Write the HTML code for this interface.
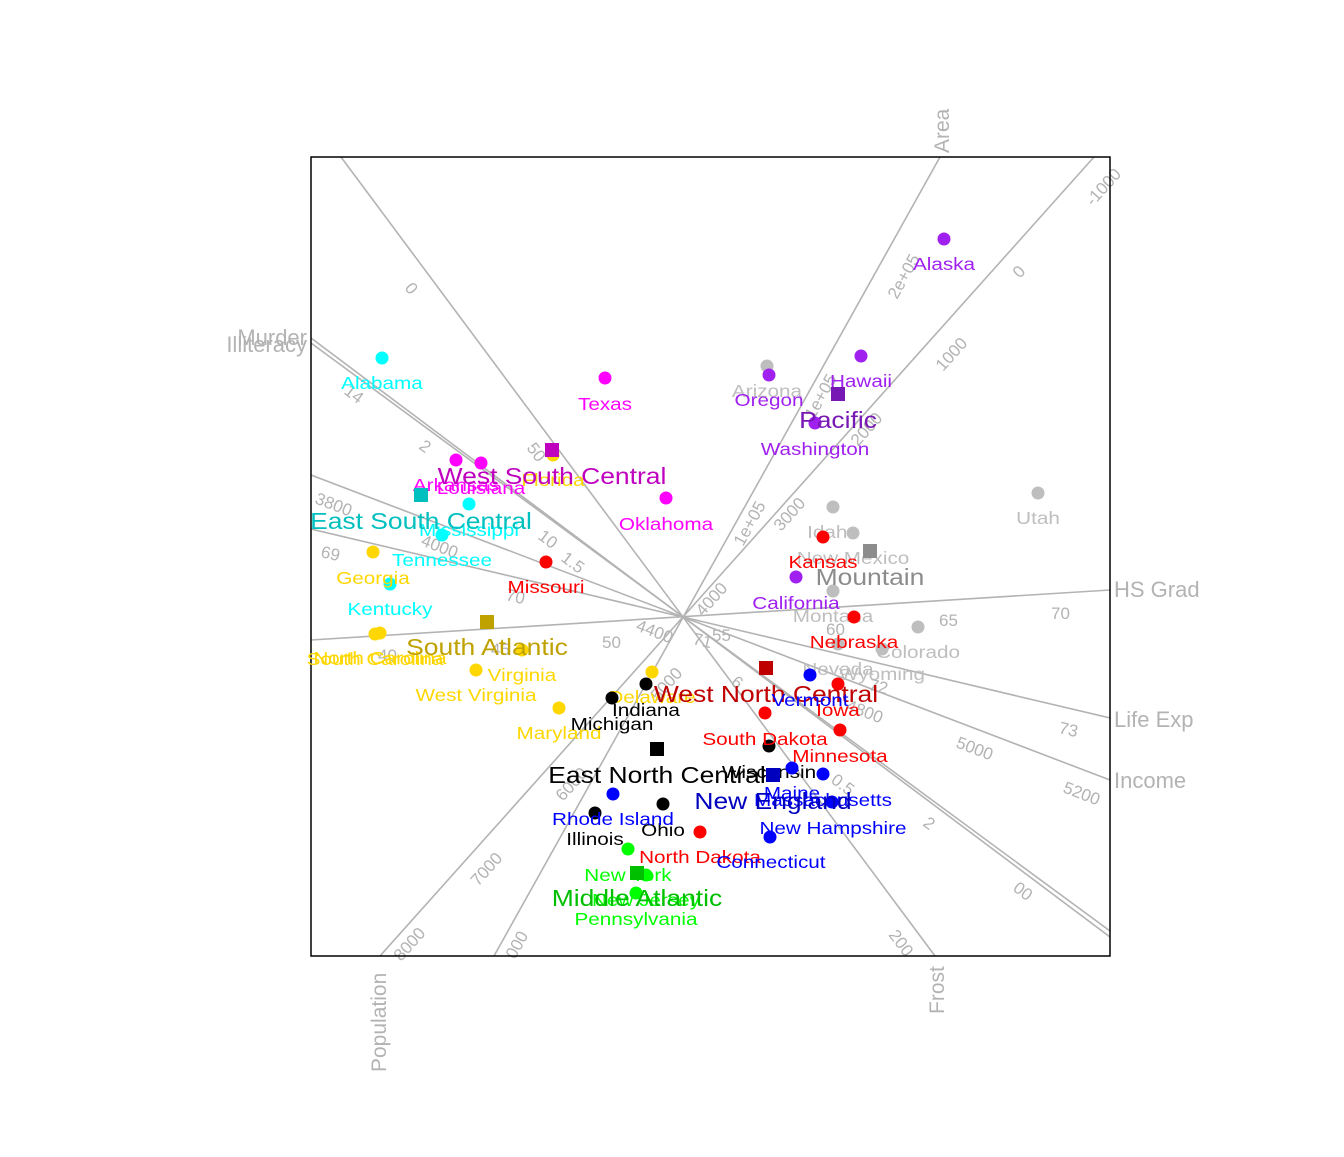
<!DOCTYPE html>
<html><head><meta charset="utf-8"><style>
html,body{margin:0;padding:0;background:#fff}
svg text{font-family:"Liberation Sans",Arial,sans-serif}
.s text{transform-box:fill-box;transform-origin:center;transform:scaleX(1.15)}
</style></head><body>
<svg width="1344" height="1152" viewBox="0 0 1344 1152" xmlns="http://www.w3.org/2000/svg">
<rect x="0" y="0" width="1344" height="1152" fill="#fff"/>
<defs><clipPath id="c"><rect x="311" y="157" width="799" height="799"/></clipPath></defs>
<g clip-path="url(#c)" stroke="#B3B3B3" stroke-width="1.6" fill="none">
<line x1="311" y1="338" x2="1110" y2="937"/>
<line x1="311" y1="343" x2="1110" y2="931"/>
<line x1="940" y1="157" x2="494" y2="956"/>
<line x1="1094" y1="157" x2="380" y2="956"/>
<line x1="341" y1="157" x2="935" y2="956"/>
<line x1="311" y1="640" x2="1110" y2="590"/>
<line x1="311" y1="529" x2="1110" y2="718"/>
<line x1="311" y1="475" x2="1110" y2="780"/>
</g>
<g fill="#B3B3B3">
<g font-size="17">
<text transform="translate(404,288) rotate(53)">0</text>
<text transform="translate(526,448) rotate(53)">50</text>
<text transform="translate(888,935) rotate(53)">200</text>
<text transform="translate(343,393) rotate(37)">14</text>
<text transform="translate(537,538) rotate(37)">10</text>
<text transform="translate(730,684) rotate(37)">6</text>
<text transform="translate(922,825) rotate(37)">2</text>
<text transform="translate(418,448) rotate(37)">2</text>
<text transform="translate(560,560) rotate(37)">1.5</text>
<text transform="translate(830,782) rotate(37)">0.5</text>
<text transform="translate(1012,890) rotate(37)">00</text>
<text transform="translate(320,557) rotate(13)">69</text>
<text transform="translate(505,600) rotate(13)">70</text>
<text transform="translate(692,644) rotate(13)">71</text>
<text transform="translate(868,690) rotate(13)">72</text>
<text transform="translate(1058,733) rotate(13)">73</text>
<text transform="translate(314,503) rotate(21)">3800</text>
<text transform="translate(420,545) rotate(21)">4000</text>
<text transform="translate(635,630) rotate(21)">4400</text>
<text transform="translate(845,710) rotate(21)">4800</text>
<text transform="translate(955,747) rotate(21)">5000</text>
<text transform="translate(1062,792) rotate(21)">5200</text>
<text x="378" y="661">40</text>
<text x="491" y="655">45</text>
<text x="602" y="648">50</text>
<text x="712" y="641">55</text>
<text x="826" y="635">60</text>
<text x="939" y="626">65</text>
<text x="1051" y="619">70</text>
<text transform="translate(897,300) rotate(-61)">2e+05</text>
<text transform="translate(814,420) rotate(-61)">1e+05</text>
<text transform="translate(743,547) rotate(-61)">1e+05</text>
<text transform="translate(1093,207) rotate(-48)">-1000</text>
<text transform="translate(1020,279) rotate(-48)">0</text>
<text transform="translate(943,372) rotate(-48)">1000</text>
<text transform="translate(858,447) rotate(-48)">2000</text>
<text transform="translate(781,532) rotate(-48)">3000</text>
<text transform="translate(703,617) rotate(-48)">4000</text>
<text transform="translate(658,702) rotate(-48)">5000</text>
<text transform="translate(563,802) rotate(-48)">6000</text>
<text transform="translate(478,887) rotate(-48)">7000</text>
<text transform="translate(401,962) rotate(-48)">8000</text>
<text transform="translate(515,960) rotate(-61)">000</text>
</g>
<text x="307" y="345" font-size="22" text-anchor="end">Murder</text>
<text x="307" y="352" font-size="22" text-anchor="end">Illiteracy</text>
<text transform="translate(949,153) rotate(-90)" font-size="21">Area</text>
<text x="1114" y="597" font-size="22">HS Grad</text>
<text x="1114" y="727" font-size="22">Life Exp</text>
<text x="1114" y="788" font-size="22">Income</text>
<text transform="translate(386,1072) rotate(-90)" font-size="21">Population</text>
<text transform="translate(944,1014) rotate(-90)" font-size="21">Frost</text>
</g>
<rect x="311" y="157" width="799" height="799" fill="none" stroke="#000" stroke-width="1.5"/>
<g class="s" font-size="18" text-anchor="middle">
<g fill="#BEBEBE">
<circle cx="767" cy="366" r="6.5"/><circle cx="1038" cy="493" r="6.5"/><circle cx="833" cy="507" r="6.5"/><circle cx="853" cy="533" r="6.5"/><circle cx="833" cy="591" r="6.5"/><circle cx="838" cy="644" r="6.5"/><circle cx="918" cy="627" r="6.5"/><circle cx="882" cy="649" r="6.5"/>
<text x="767" y="397">Arizona</text><text x="1038" y="524">Utah</text><text x="833" y="538">Idaho</text><text x="853" y="564">New Mexico</text><text x="833" y="622">Montana</text><text x="838" y="675">Nevada</text><text x="918" y="658">Colorado</text><text x="882" y="680">Wyoming</text>
</g>
<rect x="863" y="544" width="14" height="14" fill="#8C8C8C"/><text x="870" y="585" font-size="23" fill="#8C8C8C">Mountain</text>
<g fill="#A020F0">
<circle cx="944" cy="239" r="6.5"/><circle cx="861" cy="356" r="6.5"/><circle cx="769" cy="375" r="6.5"/><circle cx="815" cy="423" r="6.5"/><circle cx="796" cy="577" r="6.5"/>
<text x="944" y="270">Alaska</text><text x="861" y="387">Hawaii</text><text x="769" y="406">Oregon</text><text x="815" y="455">Washington</text><text x="796" y="609">California</text>
</g>
<rect x="831" y="387" width="14" height="14" fill="#7818B4"/><text x="838" y="428" font-size="23" fill="#7818B4">Pacific</text>
<g fill="#FF00FF">
<circle cx="605" cy="378" r="6.5"/><circle cx="456" cy="460" r="6.5"/><circle cx="481" cy="463" r="6.5"/><circle cx="666" cy="498" r="6.5"/>
<text x="605" y="410">Texas</text><text x="456" y="491">Arkansas</text><text x="481" y="494">Louisiana</text><text x="666" y="530">Oklahoma</text>
</g>
<g fill="#00FFFF">
<circle cx="382" cy="358" r="6.5"/><circle cx="469" cy="504" r="6.5"/><circle cx="442" cy="535" r="6.5"/><circle cx="390" cy="584" r="6.5"/>
<text x="382" y="389">Alabama</text><text x="469" y="536">Mississippi</text><text x="442" y="566">Tennessee</text><text x="390" y="615">Kentucky</text>
</g>
<rect x="414" y="488" width="14" height="14" fill="#00BFBF"/><text x="421" y="529" font-size="23" fill="#00BFBF">East South Central</text>
<g fill="#FFD700">
<circle cx="553" cy="455" r="6.5"/><circle cx="373" cy="552" r="6.5"/><circle cx="375" cy="634" r="6.5"/><circle cx="380" cy="633" r="6.5"/><circle cx="476" cy="670" r="6.5"/><circle cx="522" cy="650" r="6.5"/><circle cx="652" cy="672" r="6.5"/><circle cx="559" cy="708" r="6.5"/>
<text x="553" y="486">Florida</text><text x="373" y="584">Georgia</text><text x="375" y="665">South Carolina</text><text x="380" y="664">North Carolina</text><text x="476" y="701">West Virginia</text><text x="522" y="681">Virginia</text><text x="652" y="703">Delaware</text><text x="559" y="739">Maryland</text>
</g>
<rect x="545" y="443" width="14" height="14" fill="#BF00BF"/><text x="552" y="484" font-size="23" fill="#BF00BF">West South Central</text>
<rect x="480" y="615" width="14" height="14" fill="#BFA100"/><text x="487" y="655" font-size="23" fill="#BFA100">South Atlantic</text>
<g fill="#000">
<circle cx="646" cy="684" r="6.5"/><circle cx="612" cy="698" r="6.5"/><circle cx="769" cy="746" r="6.5"/><circle cx="595" cy="813" r="6.5"/><circle cx="663" cy="804" r="6.5"/>
<text x="646" y="716">Indiana</text><text x="612" y="730">Michigan</text><text x="769" y="778">Wisconsin</text><text x="595" y="845">Illinois</text><text x="663" y="836">Ohio</text>
</g>
<rect x="650" y="742" width="14" height="14" fill="#000"/><text x="657" y="783" font-size="23" fill="#000">East North Central</text>
<g fill="#FF0000">
<circle cx="823" cy="537" r="6.5"/><circle cx="546" cy="562" r="6.5"/><circle cx="854" cy="617" r="6.5"/><circle cx="838" cy="684" r="6.5"/><circle cx="765" cy="713" r="6.5"/><circle cx="840" cy="730" r="6.5"/><circle cx="700" cy="832" r="6.5"/>
<text x="823" y="568">Kansas</text><text x="546" y="593">Missouri</text><text x="854" y="648">Nebraska</text><text x="838" y="716">Iowa</text><text x="765" y="745">South Dakota</text><text x="840" y="762">Minnesota</text><text x="700" y="863">North Dakota</text>
</g>
<rect x="759" y="661" width="14" height="14" fill="#BF0000"/><text x="766" y="702" font-size="23" fill="#BF0000">West North Central</text>
<g fill="#0000FF">
<circle cx="810" cy="675" r="6.5"/><circle cx="792" cy="768" r="6.5"/><circle cx="823" cy="774" r="6.5"/><circle cx="613" cy="794" r="6.5"/><circle cx="832" cy="802" r="6.5"/><circle cx="770" cy="837" r="6.5"/>
<text x="810" y="706">Vermont</text><text x="792" y="799">Maine</text><text x="823" y="806">Massachusetts</text><text x="613" y="825">Rhode Island</text><text x="833" y="834">New Hampshire</text><text x="771" y="868">Connecticut</text>
</g>
<rect x="766" y="768" width="14" height="14" fill="#0000BF"/><text x="773" y="809" font-size="23" fill="#0000BF">New England</text>
<g fill="#00FF00">
<circle cx="628" cy="849" r="6.5"/><circle cx="646" cy="875" r="6.5"/><circle cx="636" cy="893" r="6.5"/>
<text x="628" y="881">New York</text><text x="646" y="906">New Jersey</text><text x="636" y="925">Pennsylvania</text>
</g>
<rect x="630" y="866" width="14" height="14" fill="#00BF00"/><text x="637" y="906" font-size="23" fill="#00BF00">Middle Atlantic</text>
</g>
</svg>
</body></html>
